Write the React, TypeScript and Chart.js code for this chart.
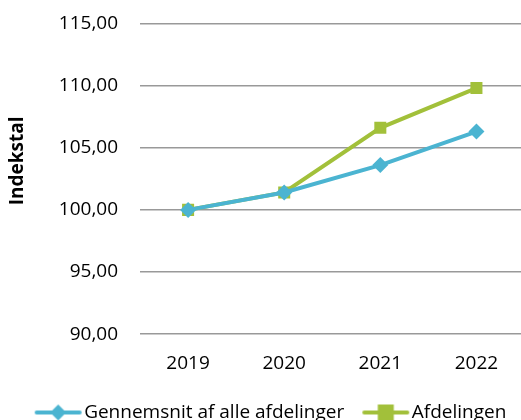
import React, { useEffect, useRef } from "react";
import { Chart, registerables } from "chart.js";

Chart.register(...registerables);

const categories = ["2019", "2020", "2021", "2022"];
const seriesNames = ["Gennemsnit af alle afdelinger", "Afdelingen"];
const gennemsnit = [100.0, 101.4, 103.6, 106.3];
const afdelingen = [100.0, 101.4, 106.6, 109.8];
const yMin = 90;
const yMax = 115;
const yStep = 5;
const yTitle = "Indekstal";

const BLUE = "#4BB4D1";
const GREEN = "#A2C03A";
const FONT = "'Open Sans', sans-serif";
const FS = 19;

function legendIcon(color: string, style: "rectRot" | "rect") {
  const c = document.createElement("canvas");
  c.width = 66;
  c.height = 18;
  const ctx = c.getContext("2d")!;
  ctx.strokeStyle = color;
  ctx.lineWidth = 4;
  ctx.lineCap = "round";
  ctx.beginPath();
  ctx.moveTo(15, 9);
  ctx.lineTo(58, 9);
  ctx.stroke();
  ctx.fillStyle = color;
  const cx = 36.5;
  if (style === "rect") {
    ctx.fillRect(cx - 8, 1, 16, 16);
  } else {
    ctx.beginPath();
    ctx.moveTo(cx, 1);
    ctx.lineTo(cx + 8, 9);
    ctx.lineTo(cx, 17);
    ctx.lineTo(cx - 8, 9);
    ctx.closePath();
    ctx.fill();
  }
  return c;
}

const titlePlugin = {
  id: "yTitleDraw",
  afterDraw(chart: any) {
    const { ctx, chartArea } = chart;
    ctx.save();
    ctx.font = `bold ${FS}px ${FONT}`;
    ctx.fillStyle = "#000";
    ctx.textAlign = "center";
    ctx.textBaseline = "middle";
    ctx.translate(18, (chartArea.top + chartArea.bottom) / 2 - 18);
    ctx.rotate(-Math.PI / 2);
    ctx.fillText(yTitle, 0, 0);
    ctx.restore();
  },
};

export default function App() {
  const ref = useRef<HTMLCanvasElement>(null);
  useEffect(() => {
    const icons = [legendIcon(BLUE, "rectRot"), legendIcon(GREEN, "rect")];
    const chart = new Chart(ref.current!, {
      type: "line",
      data: {
        labels: categories,
        datasets: [
          {
            label: seriesNames[0],
            data: gennemsnit,
            borderColor: BLUE,
            backgroundColor: BLUE,
            borderWidth: 4,
            pointStyle: "rectRot",
            pointRadius: 8,
            pointBorderWidth: 0,
          },
          {
            label: seriesNames[1],
            data: afdelingen,
            borderColor: GREEN,
            backgroundColor: GREEN,
            borderWidth: 4,
            pointStyle: "rect",
            pointRadius: 8.5,
            pointBorderWidth: 0,
          },
        ],
      },
      plugins: [titlePlugin],
      options: {
        animation: false,
        responsive: false,
        layout: { padding: { top: 0, left: 8, right: 0, bottom: 0 } },
        plugins: {
          tooltip: { enabled: false },
          legend: {
            position: "bottom",
            labels: {
              usePointStyle: true,
              pointStyleWidth: 40,
              boxHeight: 18,
              font: { family: FONT, size: FS },
              color: "#000",
              padding: 18,
              generateLabels: (ch: any) =>
                ch.data.datasets.map((d: any, i: number) => ({
                  text: d.label,
                  pointStyle: icons[i],
                  fillStyle: d.borderColor,
                  strokeStyle: d.borderColor,
                  lineWidth: 0,
                  hidden: false,
                  datasetIndex: i,
                  fontColor: "#000",
                })),
            },
          },
        },
        scales: {
          x: {
            offset: true,
            grid: { display: false },
            border: { display: false },
            ticks: { font: { family: FONT, size: FS }, color: "#000", padding: 10 },
          },
          y: {
            min: yMin,
            max: yMax,
            grid: { color: "#999", lineWidth: 1.5, drawTicks: false },
            border: { display: false },
            ticks: {
              stepSize: yStep,
              padding: 22,
              font: { family: FONT, size: FS },
              color: "#000",
              callback: (v: any) => Number(v).toFixed(2).replace(".", ","),
            },
            title: {
              display: true,
              text: yTitle,
              font: { family: FONT, size: FS, weight: "bold" },
              color: "rgba(0,0,0,0)",
              padding: { top: 0, bottom: 6 },
            },
          },
        },
      },
    });
    return () => chart.destroy();
  }, []);
  return (
    <div style={{ position: "fixed", left: 0, top: -10, width: 533, height: 442, background: "#fff" }}>
      <canvas ref={ref} width={533} height={442} />
    </div>
  );
}
